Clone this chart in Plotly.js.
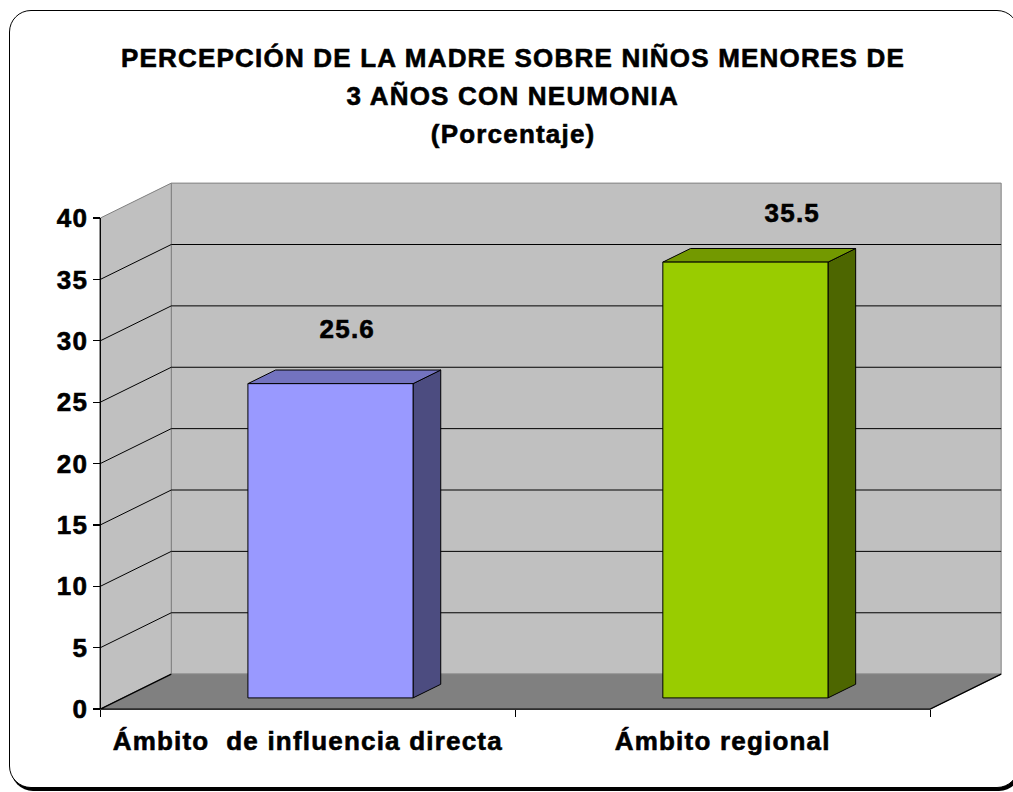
<!DOCTYPE html>
<html>
<head>
<meta charset="utf-8">
<script src="https://cdn.plot.ly/plotly-3.0.1.min.js"></script>
<style>
  body { margin: 0; background: #fff; }
  #marco {
    position: absolute; left: 9px; top: 10px; width: 1008px; height: 776px;
    border: 1.5px solid #000; border-radius: 22px; box-shadow: 2px 3px 0 #000;
    background: #fff;
  }
  #grafico { position: absolute; left: 0; top: 0; width: 1013px; height: 792px; }
  /* el texto de Excel sale mas ancho y grueso que Arial normal */
  #grafico svg text { letter-spacing: 1.2px; stroke: #000; stroke-width: 0.6px; }
</style>
</head>
<body>
<div id="marco"></div>
<div id="grafico"></div>
<script>
// Datos del gráfico
const categorias = ['Ámbito\u00a0 de influencia directa', 'Ámbito regional'];
const porcentajes = [25.6, 35.5];
const ticksY = [0, 5, 10, 15, 20, 25, 30, 35, 40];
const lineasTitulo = [
    'PERCEPCIÓN DE LA MADRE SOBRE NIÑOS MENORES DE',
    '3 AÑOS CON NEUMONIA',
    '(Porcentaje)'
];

// Colores de cada barra: frente, tapa, lado
const coloresBarra = [
    ['#9999ff', '#7373bf', '#4c4c80'],
    ['#99cc00', '#739900', '#4d6600']
];
// desplazamiento de las etiquetas de valor (px)
const ajusteEtiqueta = [[3, 48], [33, 42]];

// Perspectiva falsa en unidades de los ejes
const DX = 0.1711, DY = 2.846;   // profundidad del fondo
const ANCHO = 0.398, PROF_INI = 0.32, PROF = 0.39;
const X0 = -0.5, X1 = 1.5;       // borde delantero del piso
const YMAX = ticksY[ticksY.length - 1];
const rangoX = [-0.52, 1.69];
const rangoY = [-0.4, 43.1];

function poligono(xs, ys, relleno, linea, ancho) {
    return {
        x: xs.concat([xs[0]]), y: ys.concat([ys[0]]),
        mode: 'lines', fill: 'toself', fillcolor: relleno,
        line: { color: linea, width: ancho === undefined ? 1 : ancho },
        hoverinfo: 'skip', showlegend: false
    };
}

function linea(xs, ys, color, ancho) {
    return {
        x: xs, y: ys, mode: 'lines',
        line: { color: color, width: ancho },
        hoverinfo: 'skip', showlegend: false
    };
}

const trazas = [];

// pared del fondo
trazas.push(poligono(
    [X0 + DX, X1 + DX, X1 + DX, X0 + DX],
    [DY, DY, YMAX + DY, YMAX + DY],
    '#c0c0c0', '#808080'));
// pared lateral
trazas.push(poligono(
    [X0, X0, X0 + DX, X0 + DX],
    [0, YMAX, YMAX + DY, DY],
    '#c0c0c0', '#808080'));
// piso
trazas.push(poligono(
    [X0, X0 + DX, X1 + DX, X1],
    [0, DY, DY, 0],
    '#808080', '#808080'));

// lineas de division
const gx = [], gy = [];
ticksY.forEach(function (v) {
    if (v > 0 && v < YMAX) {
        gx.push(X0, X0 + DX, X1 + DX, null);
        gy.push(v, v + DY, v + DY, null);
    }
});
trazas.push(linea(gx, gy, '#000', 1));

// bordes del piso y eje vertical delantero
trazas.push(linea([X0 + DX, X0, X1, X1 + DX], [DY, 0, 0, DY], '#000', 1.3));
trazas.push(linea([X0, X0], [0, YMAX], '#000', 1.3));

const fuente = { family: 'Liberation Sans, Arial', size: 26, color: '#000', weight: 'bold' };

// barras en falso 3D
const anotaciones = [];
porcentajes.forEach(function (v, i) {
    const x0 = i + PROF_INI * DX - ANCHO / 2;
    const x1 = x0 + ANCHO;
    const y0 = PROF_INI * DY;
    const y1 = y0 + v;
    const dx = PROF * DX, dy = PROF * DY;
    const c = coloresBarra[i];
    trazas.push(poligono([x1, x1, x1 + dx, x1 + dx], [y0, y1, y1 + dy, y0 + dy], c[2], '#000'));
    trazas.push(poligono([x0, x1, x1 + dx, x0 + dx], [y1, y1, y1 + dy, y1 + dy], c[1], '#000'));
    trazas.push(poligono([x0, x1, x1, x0], [y0, y0, y1, y1], c[0], '#000'));
    anotaciones.push({
        x: (x0 + x1) / 2 + dx / 2, y: y1 + dy / 2,
        text: v.toFixed(1), showarrow: false,
        xshift: ajusteEtiqueta[i][0], yshift: ajusteEtiqueta[i][1],
        font: fuente
    });
});

// titulo en tres lineas (paper: 0..1 sobre el area del grafico)
const yTitulo = [1.260, 1.189, 1.118];
lineasTitulo.forEach(function (t, k) {
    anotaciones.push({
        xref: 'paper', yref: 'paper', x: 0.459, y: yTitulo[k],
        text: t, showarrow: false, font: fuente
    });
});

const layout = {
    width: 1013,
    height: 792,
    margin: { l: 92, r: 4, t: 180, b: 78 },
    paper_bgcolor: 'rgba(0,0,0,0)',
    plot_bgcolor: 'rgba(0,0,0,0)',
    showlegend: false,
    hovermode: false,
    xaxis: {
        range: rangoX,
        anchor: 'free',
        position: (0 - rangoY[0]) / (rangoY[1] - rangoY[0]),
        showgrid: false, zeroline: false, showline: false,
        tickmode: 'array', tickvals: [0, 1], ticktext: categorias,
        ticks: '', ticklabelstandoff: 14,
        tickfont: fuente,
        minor: {
            tickmode: 'array', tickvals: [X0, (X0 + X1) / 2, X1],
            ticks: 'outside', ticklen: 7, tickcolor: '#000', tickwidth: 1.3, showgrid: false
        }
    },
    yaxis: {
        range: rangoY,
        anchor: 'free',
        position: (X0 - rangoX[0]) / (rangoX[1] - rangoX[0]),
        showgrid: false, zeroline: false, showline: false,
        tickmode: 'array', tickvals: ticksY,
        ticks: 'outside', ticklen: 7, tickcolor: '#000', tickwidth: 1.3,
        tickfont: fuente
    },
    annotations: anotaciones
};

Plotly.newPlot('grafico', trazas, layout, { displayModeBar: false, staticPlot: true });
</script>
</body>
</html>
